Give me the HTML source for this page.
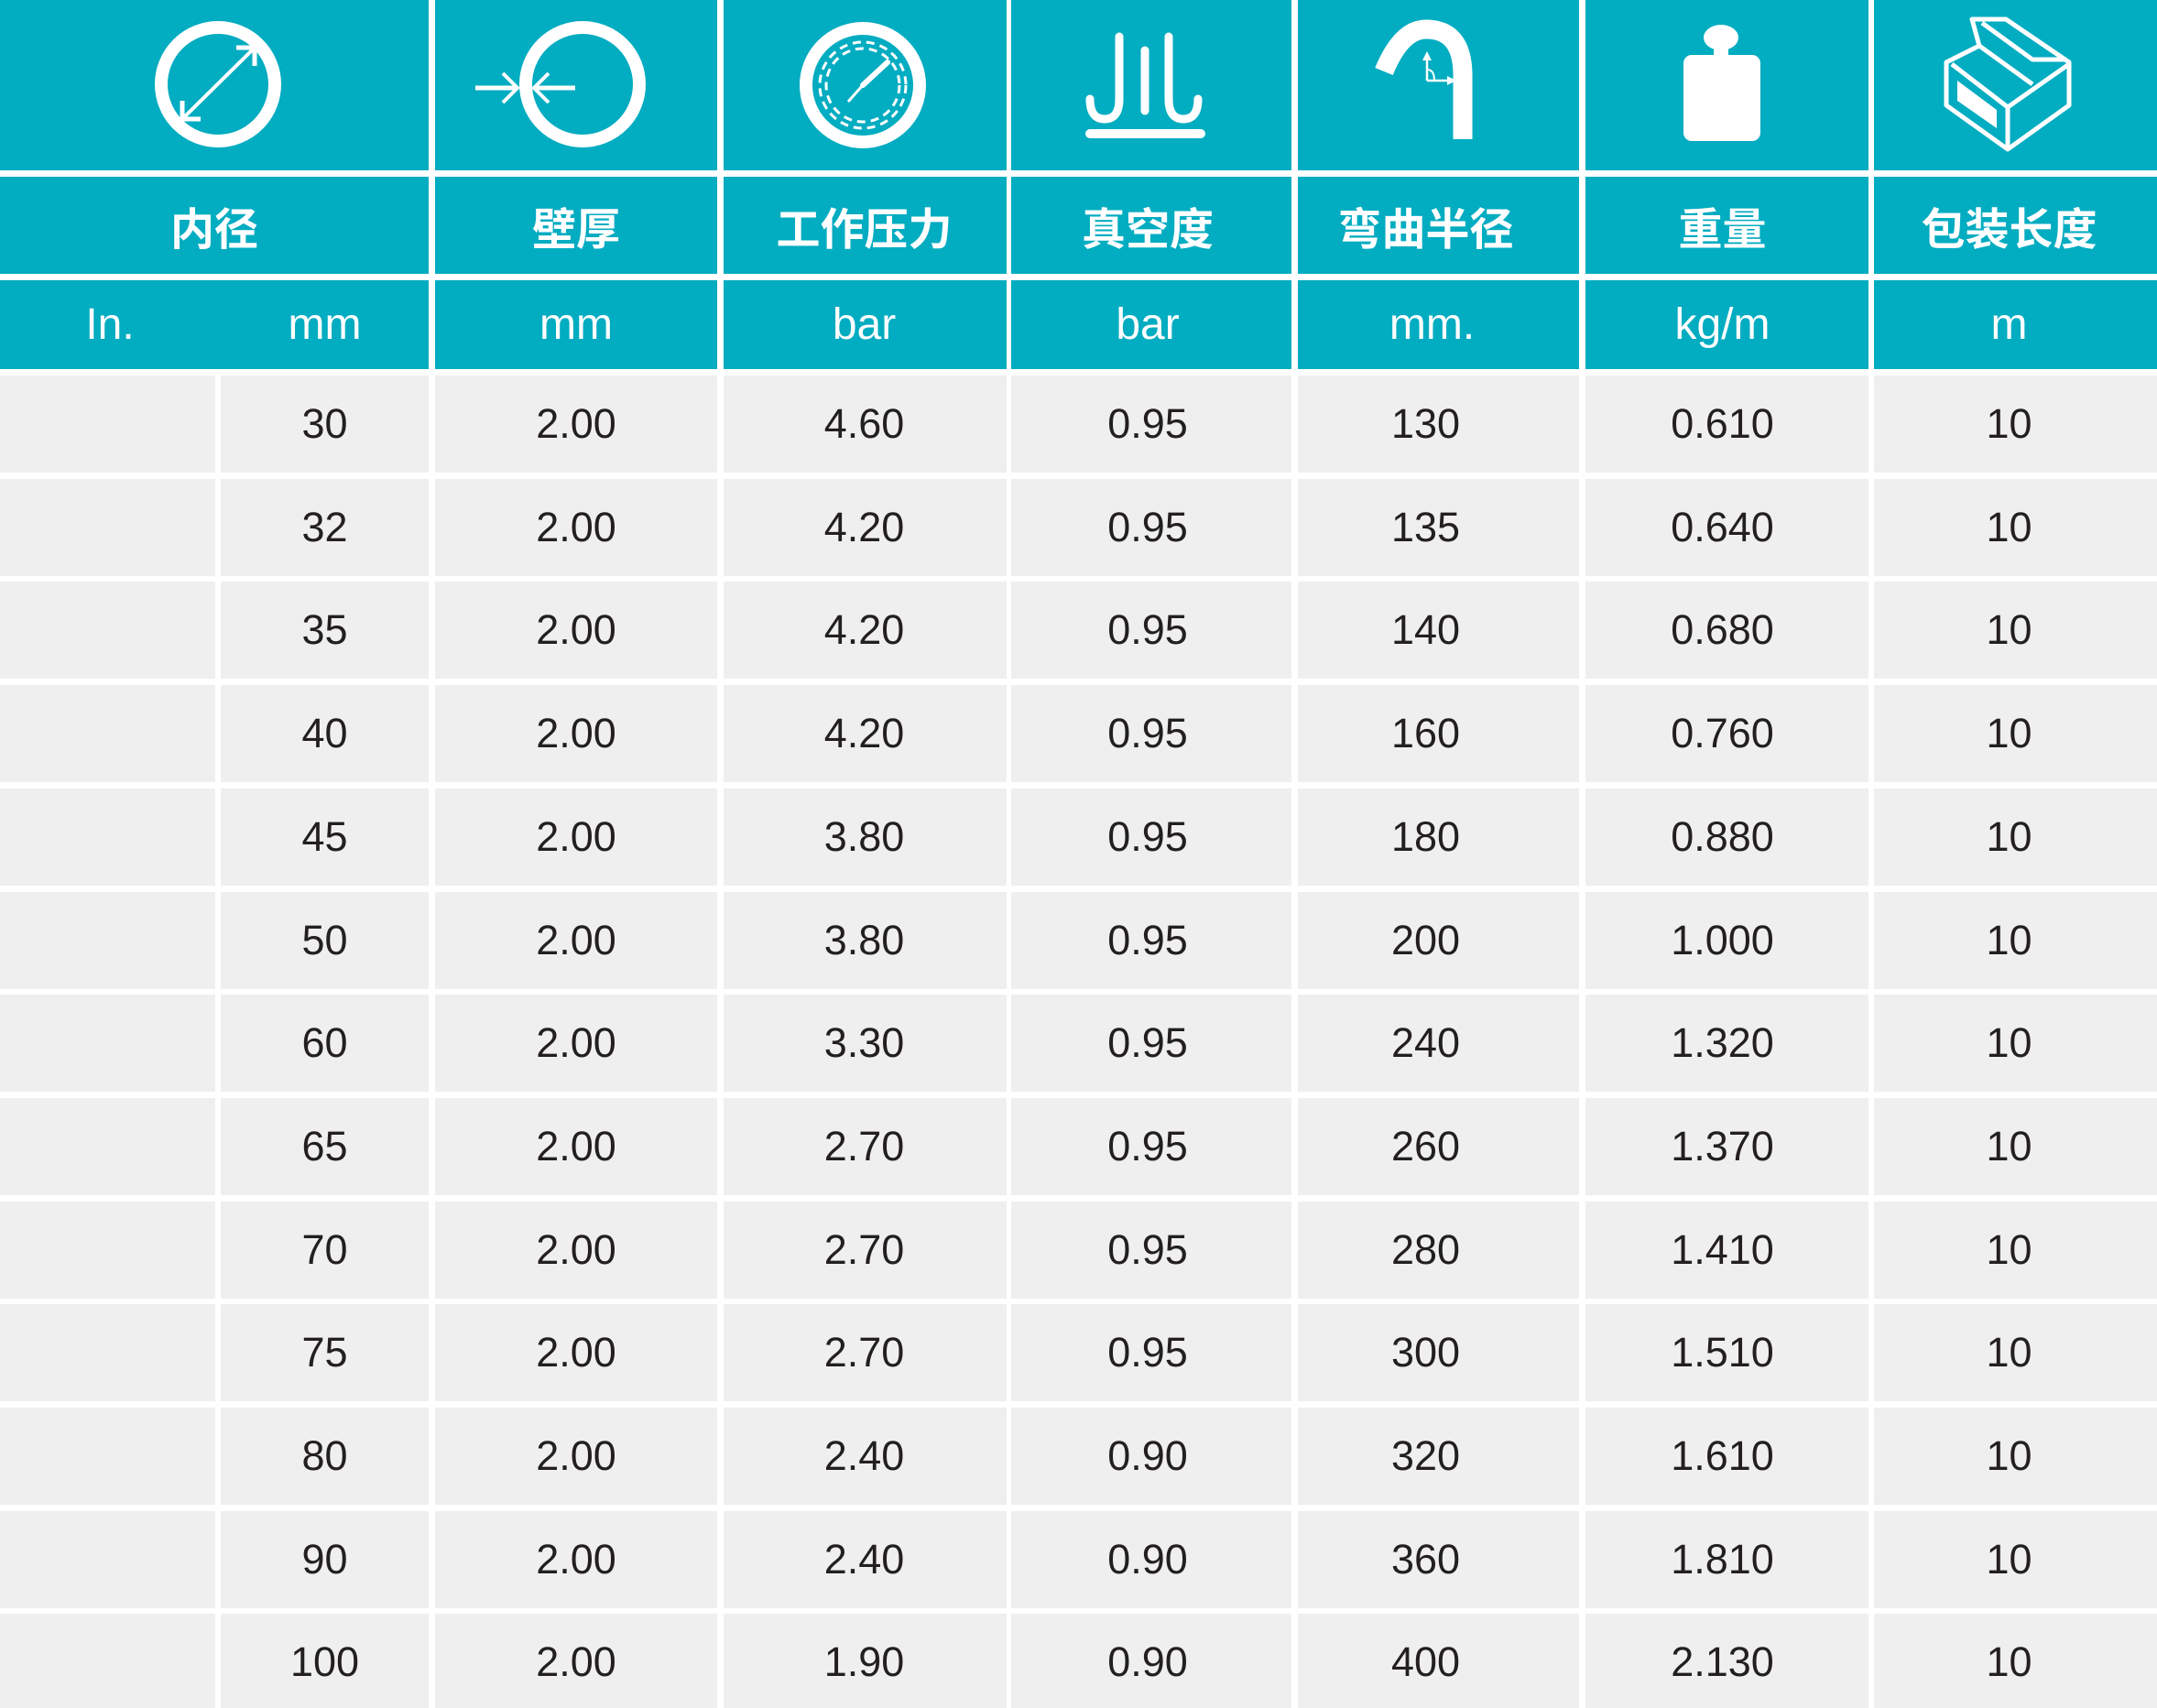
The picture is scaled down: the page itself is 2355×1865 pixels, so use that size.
<!DOCTYPE html>
<html><head><meta charset="utf-8"><style>
html,body{margin:0;padding:0;background:#fff;}
#w{position:relative;width:2355px;height:1865px;overflow:hidden;background:#fff;font-family:"Liberation Sans","Noto Sans CJK SC",sans-serif;}
.c{position:absolute;display:flex;align-items:center;justify-content:center;box-sizing:border-box;}
.t{background:#02acc1;color:#fff;}
.h{font-family:"Noto Sans CJK SC","Liberation Sans",sans-serif;font-weight:bold;font-size:48px;}
.u{font-size:48px;}
.d{background:#efefef;color:#231f20;font-size:45px;}
svg{position:absolute;left:0;top:0;}
</style></head><body><div id="w">
<div class="c t" style="left:0;top:0;width:468px;height:186px"></div>
<div class="c t" style="left:475px;top:0;width:308px;height:186px"></div>
<div class="c t" style="left:790px;top:0;width:309px;height:186px"></div>
<div class="c t" style="left:1104px;top:0;width:306px;height:186px"></div>
<div class="c t" style="left:1417px;top:0;width:307px;height:186px"></div>
<div class="c t" style="left:1731px;top:0;width:309px;height:186px"></div>
<div class="c t" style="left:2046px;top:0;width:309px;height:186px"></div>
<div class="c t h" style="left:0;top:193px;width:468px;height:106px">内径</div>
<div class="c t h" style="left:475px;top:193px;width:308px;height:106px">壁厚</div>
<div class="c t h" style="left:790px;top:193px;width:309px;height:106px;padding-right:2px">工作压力</div>
<div class="c t h" style="left:1104px;top:193px;width:306px;height:106px;padding-right:8px">真空度</div>
<div class="c t h" style="left:1417px;top:193px;width:307px;height:106px;padding-right:28px">弯曲半径</div>
<div class="c t h" style="left:1731px;top:193px;width:309px;height:106px;padding-right:10px">重量</div>
<div class="c t h" style="left:2046px;top:193px;width:309px;height:106px;padding-right:14px">包装长度</div>
<div class="c t" style="left:0;top:306px;width:468px;height:97px"></div>
<div class="c u" style="left:0;top:306px;width:240px;height:97px;color:#fff">In.</div>
<div class="c u" style="left:241px;top:306px;width:227px;height:97px;color:#fff">mm</div>
<div class="c t u" style="left:475px;top:306px;width:308px;height:97px">mm</div>
<div class="c t u" style="left:790px;top:306px;width:309px;height:97px;padding-right:2px">bar</div>
<div class="c t u" style="left:1104px;top:306px;width:306px;height:97px;padding-right:8px">bar</div>
<div class="c t u" style="left:1417px;top:306px;width:307px;height:97px;padding-right:14px">mm.</div>
<div class="c t u" style="left:1731px;top:306px;width:309px;height:97px;padding-right:10px">kg/m</div>
<div class="c t u" style="left:2046px;top:306px;width:309px;height:97px;padding-right:14px">m</div>
<div id="rows"></div>
<svg width="2355" height="190" viewBox="0 0 2355 190">
<g fill="none" stroke="#fff">
<circle cx="238" cy="92" r="62" stroke-width="14"/>
<line x1="201" y1="128" x2="276" y2="54" stroke-width="4"/>
<polyline points="258,52 278,52 278,72" stroke-width="5"/>
<polyline points="199,110 199,130 219,130" stroke-width="5"/>
<circle cx="636" cy="92" r="62" stroke-width="14"/>
<line x1="519" y1="96" x2="565" y2="96" stroke-width="5"/>
<polyline points="549,80 565,96 549,112" stroke-width="4"/>
<line x1="628" y1="96" x2="583" y2="96" stroke-width="5"/>
<polyline points="599,80 583,96 599,112" stroke-width="4"/>
<circle cx="942" cy="93" r="62" stroke-width="14"/>
<circle cx="942" cy="93" r="47" stroke-width="3" stroke-dasharray="9 6"/>
<circle cx="942" cy="93" r="40" stroke-width="3" stroke-dasharray="9 6"/>
<line x1="942" y1="93" x2="969" y2="68" stroke-width="6" stroke-linecap="round"/>
<line x1="942" y1="93" x2="926" y2="111" stroke-width="3"/>
<g stroke-width="9" stroke-linecap="round">
<path d="M1222,40 V108 Q1222,130 1206,130 Q1190,130 1190,108"/>
<line x1="1250" y1="55" x2="1250" y2="121"/>
<path d="M1276,40 V108 Q1276,130 1292,130 Q1308,130 1308,108"/>
<line x1="1190" y1="146" x2="1311" y2="146" stroke-width="10"/>
</g>
<path d="M1511,78 Q1530,32 1557,32 Q1596,32 1597,80 V152" stroke-width="21"/>
<line x1="1558" y1="62" x2="1558" y2="88" stroke-width="2.5"/>
<line x1="1558" y1="88" x2="1583" y2="88" stroke-width="2.5"/>
<path d="M1558,76 Q1566,76 1566,88" stroke-width="2"/>
<g stroke-width="5" stroke-linejoin="round">
<polygon points="2153,21 2190,21 2259,68 2259,115 2192,163 2125,115 2125,68 2161,50"/>
<polyline points="2131,70 2192,117 2259,70"/>
<line x1="2192" y1="117" x2="2192" y2="163"/>
<polyline points="2161,50 2219,92"/>
<polyline points="2164,25 2219,65 2256,65"/>
</g>
</g>
<g fill="#fff">
<polygon points="1558,56 1553,66 1563,66"/>
<polygon points="1590,88 1580,83 1580,93"/>
<ellipse cx="1879" cy="41" rx="19" ry="14"/>
<rect x="1871" y="48" width="16" height="16"/>
<rect x="1838" y="60" width="84" height="94" rx="9"/>
<polygon points="2137,88 2180,120 2180,140 2137,110"/>
</g>
</svg>
<script>
(function(){
var d=[["30","2.00","4.60","0.95","130","0.610"],["32","2.00","4.20","0.95","135","0.640"],["35","2.00","4.20","0.95","140","0.680"],["40","2.00","4.20","0.95","160","0.760"],["45","2.00","3.80","0.95","180","0.880"],["50","2.00","3.80","0.95","200","1.000"],["60","2.00","3.30","0.95","240","1.320"],["65","2.00","2.70","0.95","260","1.370"],["70","2.00","2.70","0.95","280","1.410"],["75","2.00","2.70","0.95","300","1.510"],["80","2.00","2.40","0.90","320","1.610"],["90","2.00","2.40","0.90","360","1.810"],["100","2.00","1.90","0.90","400","2.130"]];
var cols=[[241,227,0],[475,308,0],[790,309,2],[1104,306,8],[1417,307,28],[1731,309,10],[2046,309,14]];
var h="";
for(var i=0;i<d.length;i++){var ty=Math.round(410+i*112.7);var r=d[i].concat(["10"]);
h+='<div class="c d" style="left:0;top:'+ty+'px;width:235px;height:106px"></div>';
for(var j=0;j<7;j++){h+='<div class="c d" style="left:'+cols[j][0]+'px;top:'+ty+'px;width:'+cols[j][1]+'px;height:106px;padding-right:'+cols[j][2]+'px">'+r[j]+'</div>';}}
document.getElementById("rows").innerHTML=h;
})();
</script>
</div></body></html>
